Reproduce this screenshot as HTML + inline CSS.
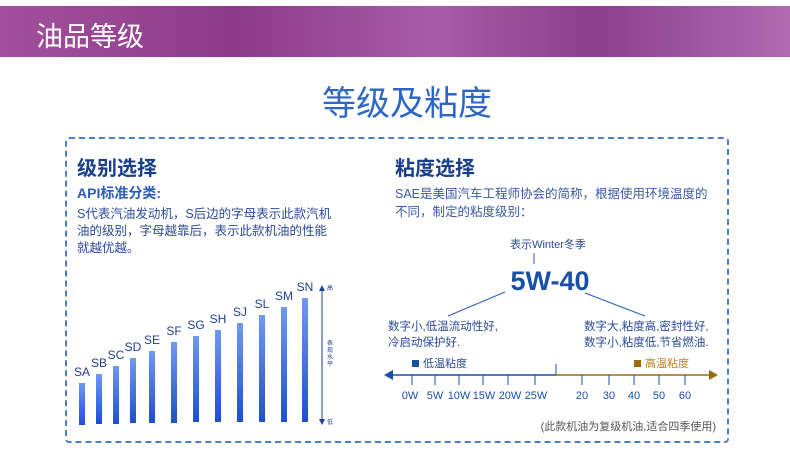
<!DOCTYPE html>
<html><head><meta charset="utf-8"><style>
body{margin:0;width:790px;height:476px;background:#fff;position:relative;overflow:hidden;font-family:"Liberation Sans","Noto Sans CJK SC",sans-serif}
.a{position:absolute;white-space:nowrap}
</style></head><body>
<div class="a" style="left:0;top:6px;width:790px;height:51px;background:linear-gradient(90deg,#a2509b 0%,#8e3a8c 30%,#a85ca5 55%,#8b3f8e 75%,#b06bb0 100%)"></div>
<div class="a" style="left:36px;top:15px;font-size:27px;color:#fff">油品等级</div>
<div class="a" style="left:0;top:76px;width:790px;text-align:center;font-size:34px;color:#2e66c4;padding-left:24px;box-sizing:border-box">等级及粘度</div>
<div class="a" style="left:65px;top:137px;width:660px;height:302px;border:2px dashed #4a7fc6;border-radius:4px"></div>
<div class="a" style="left:77px;top:152px;font-size:20px;font-weight:bold;color:#1a3f8a">级别选择</div>
<div class="a" style="left:77px;top:183px;font-size:14px;font-weight:bold;color:#2a5cb8">API标准分类:</div>
<div class="a" style="left:77px;top:206px;font-size:12.5px;line-height:17px;color:#2a4a9a">S代表汽油发动机，S后边的字母表示此款汽机<br>油的级别，字母越靠后，表示此款机油的性能<br>就越优越。</div>
<div class="a" style="left:395px;top:152px;font-size:20px;font-weight:bold;color:#1a3f8a">粘度选择</div>
<div class="a" style="left:395px;top:185px;font-size:12.5px;line-height:18px;color:#3a5aa0">SAE是美国汽车工程师协会的简称，根据使用环境温度的<br>不同，制定的粘度级别：</div>
<svg class="a" style="left:0;top:0" width="790" height="476">
<defs><linearGradient id="g" x1="0" y1="0" x2="0" y2="1"><stop offset="0" stop-color="#6f9af0"/><stop offset="1" stop-color="#1d4fd0"/></linearGradient></defs>
<g font-size="12" fill="#1f3e8e" text-anchor="middle">
<rect x="79" y="383" width="6" height="42" fill="url(#g)"/><text x="82" y="376">SA</text>
<rect x="96" y="374" width="6" height="50" fill="url(#g)"/><text x="99" y="367">SB</text>
<rect x="113" y="366" width="6" height="58" fill="url(#g)"/><text x="116" y="359">SC</text>
<rect x="130" y="358" width="6" height="65" fill="url(#g)"/><text x="133" y="351">SD</text>
<rect x="149" y="351" width="6" height="72" fill="url(#g)"/><text x="152" y="344">SE</text>
<rect x="171" y="342" width="6" height="81" fill="url(#g)"/><text x="174" y="335">SF</text>
<rect x="193" y="336" width="6" height="86" fill="url(#g)"/><text x="196" y="329">SG</text>
<rect x="215" y="330" width="6" height="92" fill="url(#g)"/><text x="218" y="323">SH</text>
<rect x="237" y="323" width="6" height="99" fill="url(#g)"/><text x="240" y="316">SJ</text>
<rect x="259" y="315" width="6" height="107" fill="url(#g)"/><text x="262" y="308">SL</text>
<rect x="281" y="307" width="6" height="115" fill="url(#g)"/><text x="284" y="300">SM</text>
<rect x="302" y="298" width="6" height="124" fill="url(#g)"/><text x="305" y="291">SN</text>
</g>
<line x1="322" y1="289" x2="322" y2="421" stroke="#1f3e8e"/>
<path d="M319 291 L322 285 L325 291Z M319 419 L322 425 L325 419Z" fill="#1f3e8e"/>
<g font-size="6" fill="#1f3e8e"><text x="327" y="290">高</text><text x="327" y="424">低</text>
<text x="327" y="345">表</text><text x="327" y="352">现</text><text x="327" y="359">水</text><text x="327" y="366">平</text></g>
<text x="548" y="248" font-size="11" fill="#2a4a9a" text-anchor="middle">表示Winter冬季</text>
<line x1="534" y1="253" x2="534" y2="264" stroke="#2a5cb8"/>
<text x="550" y="290" font-size="27" font-weight="bold" fill="#1a4fa8" text-anchor="middle">5W-40</text>
<line x1="505" y1="292" x2="448" y2="316" stroke="#2a5cb8"/>
<line x1="585" y1="293" x2="645" y2="316" stroke="#2a5cb8"/>
<g font-size="11.5" fill="#2a4a9a"><text x="388" y="330">数字小,低温流动性好,</text><text x="388" y="346">冷启动保护好.</text>
<text x="584" y="330">数字大,粘度高,密封性好,</text><text x="584" y="346">数字小,粘度低,节省燃油.</text></g>
<rect x="412" y="360" width="7" height="7" fill="#1a4fa8"/><text x="423" y="367" font-size="11" fill="#2a4a9a">低温粘度</text>
<rect x="634" y="360" width="7" height="7" fill="#9a6a10"/><text x="645" y="367" font-size="11" fill="#c08020">高温粘度</text>
<line x1="390" y1="375" x2="556" y2="375" stroke="#1a4fa8" stroke-width="1.5"/>
<line x1="556" y1="375" x2="712" y2="375" stroke="#9a6a10" stroke-width="1.5"/>
<path d="M384 375 L393 370 L393 380Z" fill="#1a4fa8"/><path d="M718 375 L709 370 L709 380Z" fill="#9a6a10"/>
<line x1="556" y1="364" x2="556" y2="375" stroke="#1a4fa8"/>
<g stroke="#1a4fa8"><line x1="412" y1="375" x2="412" y2="385"/><line x1="435" y1="375" x2="435" y2="385"/><line x1="459" y1="375" x2="459" y2="385"/><line x1="483" y1="375" x2="483" y2="385"/><line x1="508" y1="375" x2="508" y2="385"/><line x1="535" y1="375" x2="535" y2="385"/>
<line x1="582" y1="375" x2="582" y2="385"/><line x1="609" y1="375" x2="609" y2="385"/><line x1="634" y1="375" x2="634" y2="385"/><line x1="659" y1="375" x2="659" y2="385"/><line x1="685" y1="375" x2="685" y2="385"/></g>
<g font-size="11" fill="#1a4fa8" text-anchor="middle"><text x="410" y="399">0W</text><text x="435" y="399">5W</text><text x="459" y="399">10W</text><text x="484" y="399">15W</text><text x="510" y="399">20W</text><text x="536" y="399">25W</text>
<text x="582" y="399">20</text><text x="609" y="399">30</text><text x="634" y="399">40</text><text x="659" y="399">50</text><text x="685" y="399">60</text></g>
<text x="716" y="430" font-size="11" fill="#555" text-anchor="end">(此款机油为复级机油,适合四季使用)</text>
</svg>
</body></html>
